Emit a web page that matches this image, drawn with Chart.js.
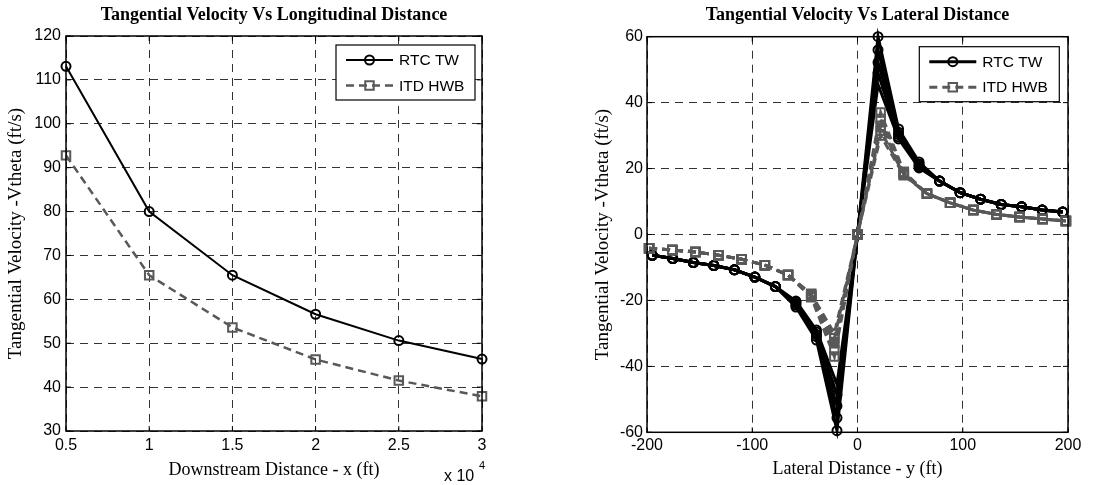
<!DOCTYPE html>
<html>
<head>
<meta charset="utf-8">
<script src="https://cdn.jsdelivr.net/npm/chart.js@4.4.0/dist/chart.umd.min.js"></script>
<style>
  body { margin: 0; background: #fff; }
  #left { position: absolute; left: 0; top: 0; }
  #right { position: absolute; left: 556px; top: 0; }
</style>
</head>
<body>
<canvas id="left" width="500" height="485"></canvas>
<canvas id="right" width="560" height="485"></canvas>
<script>
// --- left plot: Vtheta vs downstream distance ---
const xDist = [5000, 10000, 15000, 20000, 25000, 30000];
const xTickLabels = ['0.5', '1', '1.5', '2', '2.5', '3'];
const rtcVsX = [113.1, 80.0, 65.5, 56.6, 50.6, 46.4];
const itdVsX = [92.8, 65.5, 53.6, 46.3, 41.5, 37.9];

// --- right plot: Vtheta vs lateral distance (several stations overlap) ---
const yRtc = [-195, -175.5, -156, -136.5, -117, -97.5, -78, -58.5, -39, -19.5, 0, 19.5, 39, 58.5, 78, 97.5, 117, 136.5, 156, 175.5, 195];
const rtcA = [-6.3, -7.3, -8.5, -9.4, -10.7, -12.9, -15.8, -22.0, -32.0, -59.5, 0, 60.0, 32.0, 22.0, 16.2, 12.7, 10.7, 9.1, 8.4, 7.4, 6.8];
const rtcB = [-6.3, -7.3, -8.5, -9.4, -10.7, -12.9, -15.8, -21.4, -31.0, -55.6, 0, 56.0, 31.0, 21.4, 16.2, 12.7, 10.7, 9.1, 8.4, 7.4, 6.8];
const rtcC = [-6.3, -7.3, -8.5, -9.4, -10.7, -12.9, -15.8, -20.9, -30.3, -52.0, 0, 52.2, 30.3, 20.9, 16.2, 12.7, 10.7, 9.1, 8.4, 7.4, 6.8];
const rtcD = [-6.3, -7.3, -8.5, -9.4, -10.7, -12.9, -15.8, -20.5, -29.6, -48.7, 0, 49.0, 29.6, 20.5, 16.2, 12.7, 10.7, 9.1, 8.4, 7.4, 6.8];
const rtcE = [-6.3, -7.3, -8.5, -9.4, -10.7, -12.9, -15.8, -20.2, -29.0, -45.5, 0, 45.5, 29.0, 20.2, 16.2, 12.7, 10.7, 9.1, 8.4, 7.4, 6.8];

const yItd = [-198, -176, -154, -132, -110, -88, -66, -44, -22, 0, 22, 44, 66, 88, 110, 132, 154, 176, 198];
const itdA = [-4.2, -4.7, -5.3, -6.3, -7.5, -9.3, -12.3, -19.0, -37.0, 0, 37.0, 19.0, 12.4, 9.6, 7.4, 6.1, 5.3, 4.7, 4.1];
const itdB = [-4.2, -4.7, -5.3, -6.3, -7.5, -9.3, -12.3, -18.7, -35.0, 0, 35.0, 18.7, 12.4, 9.6, 7.4, 6.1, 5.3, 4.7, 4.1];
const itdC = [-4.2, -4.7, -5.3, -6.3, -7.5, -9.3, -12.3, -18.4, -33.0, 0, 33.0, 18.4, 12.4, 9.6, 7.4, 6.1, 5.3, 4.7, 4.1];
const itdD = [-4.2, -4.7, -5.3, -6.3, -7.5, -9.3, -12.3, -18.2, -31.5, 0, 31.5, 18.2, 12.4, 9.6, 7.4, 6.1, 5.3, 4.7, 4.1];
const itdE = [-4.2, -4.7, -5.3, -6.3, -7.5, -9.3, -12.3, -18.0, -30.0, 0, 30.0, 18.0, 12.4, 9.6, 7.4, 6.1, 5.3, 4.7, 4.1];

const GRAY = 'rgb(88,88,88)';
const sansFont = 'Liberation Sans, Arial, sans-serif';
const serifFont = 'Liberation Serif, Times New Roman, serif';

function pts(xs, ys) {
  return xs.map((x, i) => ({ x: x, y: ys[i] }));
}

function rtcSet(xs, ys, lw, inLegend) {
  return {
    label: 'RTC TW', inLegend: inLegend, order: 1, clip: false,
    data: pts(xs, ys),
    borderColor: '#000', borderWidth: lw,
    pointStyle: 'circle', pointRadius: 4.5, pointBorderWidth: 2,
    pointBorderColor: '#000', pointBackgroundColor: 'rgba(0,0,0,0)'
  };
}

function itdSet(xs, ys, lw, inLegend) {
  return {
    label: 'ITD HWB', inLegend: inLegend, order: 0, clip: false,
    data: pts(xs, ys),
    borderColor: GRAY, borderWidth: lw, borderDash: [8, 5],
    pointStyle: 'rect', pointRadius: 6, pointBorderWidth: 2,
    pointBorderColor: GRAY, pointBackgroundColor: 'rgba(0,0,0,0)'
  };
}

// solid box around the plot area and small inward ticks (matlab style)
const frameBox = {
  id: 'frameBox',
  afterDatasetsDraw(chart) {
    const a = chart.chartArea, ctx = chart.ctx;
    ctx.save();
    ctx.strokeStyle = '#000';
    ctx.lineWidth = 1;
    ctx.beginPath();
    chart.scales.x.ticks.forEach(t => {
      const p = chart.scales.x.getPixelForValue(t.value);
      ctx.moveTo(p, a.bottom); ctx.lineTo(p, a.bottom - 5);
      ctx.moveTo(p, a.top); ctx.lineTo(p, a.top + 5);
    });
    chart.scales.y.ticks.forEach(t => {
      const p = chart.scales.y.getPixelForValue(t.value);
      ctx.moveTo(a.left, p); ctx.lineTo(a.left + 5, p);
      ctx.moveTo(a.right, p); ctx.lineTo(a.right - 5, p);
    });
    ctx.stroke();
    ctx.lineWidth = 1.5;
    ctx.strokeRect(a.left, a.top, a.right - a.left, a.bottom - a.top);
    ctx.restore();
  }
};

// boxed legend in the top right corner of the plot area
const boxLegend = {
  id: 'boxLegend',
  afterDraw(chart, args, opts) {
    const a = chart.chartArea, ctx = chart.ctx;
    const left = a.right - opts.inset - opts.width;
    const top = a.top + opts.top;
    ctx.save();
    ctx.fillStyle = '#fff';
    ctx.fillRect(left, top, opts.width, opts.height);
    ctx.strokeStyle = '#000';
    ctx.lineWidth = 1.2;
    ctx.strokeRect(left, top, opts.width, opts.height);
    chart.data.datasets.filter(d => d.inLegend).forEach((d, i) => {
      const y = top + 15 + i * 25.5;
      const x0 = left + 10, x1 = left + 57, cx = (x0 + x1) / 2;
      ctx.strokeStyle = d.borderColor;
      ctx.lineWidth = d.borderWidth;
      ctx.setLineDash(d.borderDash || []);
      ctx.beginPath(); ctx.moveTo(x0, y); ctx.lineTo(x1, y); ctx.stroke();
      ctx.setLineDash([]);
      ctx.lineWidth = d.pointBorderWidth;
      ctx.beginPath();
      if (d.pointStyle === 'rect') {
        const s = d.pointRadius * Math.SQRT1_2;
        ctx.rect(cx - s, y - s, 2 * s, 2 * s);
      } else {
        ctx.arc(cx, y, d.pointRadius, 0, 2 * Math.PI);
      }
      ctx.stroke();
      ctx.fillStyle = '#000';
      ctx.font = '15.5px ' + sansFont;
      ctx.textBaseline = 'middle';
      ctx.fillText(d.label, left + 63, y + 1);
    });
    ctx.restore();
  }
};

// "x 10^4" multiplier under the x axis of the left plot
const xExponent = {
  id: 'xExponent',
  afterDraw(chart) {
    const a = chart.chartArea, ctx = chart.ctx;
    ctx.save();
    ctx.fillStyle = '#000';
    ctx.textBaseline = 'middle';
    ctx.font = '16px ' + sansFont;
    ctx.fillText('x 10', a.right - 38, 477);
    ctx.font = '11px ' + sansFont;
    ctx.fillText('4', a.right - 3, 466);
    ctx.restore();
  }
};

function makeOptions(o) {
  const grid = { color: '#333', lineWidth: 1, drawTicks: false };
  const border = { display: false, dash: [8, 6] };
  return {
    responsive: false,
    animation: false,
    events: [],
    layout: { padding: { left: 0, right: o.padRight, top: 0, bottom: 0 } },
    plugins: {
      legend: { display: false },
      tooltip: { enabled: false },
      title: {
        display: true, text: o.title, fullSize: false, color: '#000',
        font: { family: serifFont, size: 18, weight: 'bold' },
        padding: { top: 5, bottom: o.titleGap }
      },
      boxLegend: { width: o.legendW, height: 55, inset: o.legendInset, top: o.legendTop }
    },
    scales: {
      x: {
        type: 'linear', min: o.xMin, max: o.xMax,
        grid: grid, border: border,
        ticks: {
          stepSize: o.xStep, color: '#000', padding: o.xTickPad, maxRotation: 0,
          font: { family: sansFont, size: 16 },
          callback: o.xTick
        },
        title: {
          display: true, text: o.xTitle, color: '#000',
          font: { family: serifFont, size: 18 },
          padding: { top: 0, bottom: o.xTitleBottom }
        },
        afterFit: (s) => { s.height = o.xHeight; s.paddingLeft = 0; s.paddingRight = 0; }
      },
      y: {
        type: 'linear', min: o.yMin, max: o.yMax,
        grid: grid, border: border,
        ticks: {
          stepSize: o.yStep, color: '#000', padding: o.yTickPad,
          font: { family: sansFont, size: 16 }
        },
        title: {
          display: true, text: 'Tangential Velocity -Vtheta (ft/s)', color: '#000',
          font: { family: serifFont, size: 19 },
          padding: { top: o.yTitleLeft, bottom: 0 }
        },
        afterFit: (s) => { s.width = o.yWidth; s.paddingTop = 0; s.paddingBottom = 0; }
      }
    }
  };
}

new Chart(document.getElementById('left'), {
  type: 'line',
  data: {
    datasets: [
      rtcSet(xDist, rtcVsX, 2, true),
      itdSet(xDist, itdVsX, 2.5, true)
    ]
  },
  options: makeOptions({
    title: 'Tangential Velocity Vs Longitudinal Distance', titleGap: 9.4,
    padRight: 18, yWidth: 66, xHeight: 54, yTickPad: 5, yTitleLeft: 5.1, xTickPad: 4.5,
    xMin: 5000, xMax: 30000, xStep: 5000,
    xTick: (v) => xTickLabels[xDist.indexOf(v)],
    yMin: 30, yMax: 120, yStep: 10,
    xTitle: 'Downstream Distance - x (ft)', xTitleBottom: 4.2,
    legendW: 139, legendInset: 7, legendTop: 9
  }),
  plugins: [frameBox, boxLegend, xExponent]
});

new Chart(document.getElementById('right'), {
  type: 'line',
  data: {
    datasets: [
      rtcSet(yRtc, rtcA, 3, true),
      rtcSet(yRtc, rtcB, 3, false),
      rtcSet(yRtc, rtcC, 3, false),
      rtcSet(yRtc, rtcD, 3, false),
      rtcSet(yRtc, rtcE, 3, false),
      itdSet(yItd, itdA, 3, true),
      itdSet(yItd, itdB, 3, false),
      itdSet(yItd, itdC, 3, false),
      itdSet(yItd, itdD, 3, false),
      itdSet(yItd, itdE, 3, false)
    ]
  },
  options: makeOptions({
    title: 'Tangential Velocity Vs Lateral Distance', titleGap: 10.1,
    padRight: 48, yWidth: 91, xHeight: 52.7, yTickPad: 4, yTitleLeft: 35.6, xTickPad: 4,
    xMin: -200, xMax: 200, xStep: 100,
    xTick: (v) => String(v),
    yMin: -60, yMax: 60, yStep: 20,
    xTitle: 'Lateral Distance - y (ft)', xTitleBottom: 4.7,
    legendW: 140, legendInset: 8.7, legendTop: 10
  }),
  plugins: [frameBox, boxLegend]
});
</script>
</body>
</html>
